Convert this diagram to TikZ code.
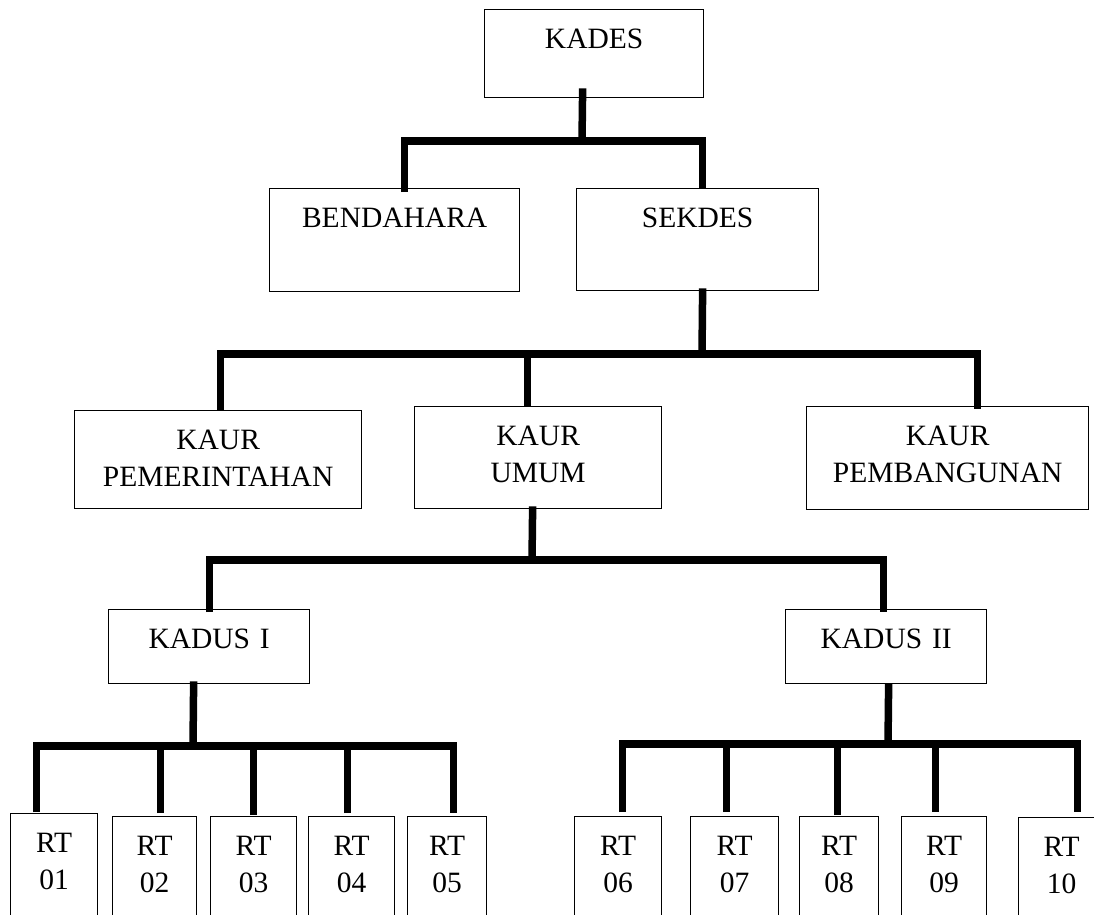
\documentclass[tikz,border=0pt]{standalone}
\usepackage{fontspec}
\setmainfont{Liberation Serif}
\tikzset{
  orgbox/.style={draw=black, line width=1.3pt, rectangle, anchor=north west,
    inner sep=0pt, align=center, text height=39pt,
    font=\fontsize{29.5pt}{37pt}\selectfont},
  conn/.style={draw=black, line width=7.5pt, line join=miter, line cap=butt},
}
\begin{document}
\begin{tikzpicture}[x=1pt,y=-1pt]
\useasboundingbox (0,0) rectangle (1094,914);
\clip (0,0) rectangle (1094,914);
% boxes
\node[orgbox, text width=219pt, text depth=49pt] (kades) at (484,9) {KADES};
\node[orgbox, text width=250pt, text depth=64pt] (bend) at (269,188) {BENDAHARA};
\node[orgbox, text width=242pt, text depth=63pt] (sek) at (576,188) {SEKDES};
\node[orgbox, text width=287pt, text depth=59pt] (kpem) at (74,410) {KAUR\\PEMERINTAHAN};
\node[orgbox, text width=247pt, text depth=63pt] (kumum) at (414,406) {KAUR\\UMUM};
\node[orgbox, text width=282pt, text depth=64pt] (kpemb) at (806,406) {KAUR\\PEMBANGUNAN};
\node[orgbox, text width=201pt, text depth=35pt] (kad1) at (108,609) {KADUS I};
\node[orgbox, text width=201pt, text depth=35pt] (kad2) at (785,609) {KADUS II};
\node[orgbox, text width=87pt, text depth=81pt] (rt01) at (10,813) {RT\\01};
\node[orgbox, text width=84pt, text depth=81pt] (rt02) at (112,816) {RT\\02};
\node[orgbox, text width=86pt, text depth=81pt] (rt03) at (210,816) {RT\\03};
\node[orgbox, text width=86pt, text depth=81pt] (rt04) at (308,816) {RT\\04};
\node[orgbox, text width=79pt, text depth=81pt] (rt05) at (407,816) {RT\\05};
\node[orgbox, text width=87pt, text depth=81pt] (rt06) at (574,816) {RT\\06};
\node[orgbox, text width=88pt, text depth=81pt] (rt07) at (690,816) {RT\\07};
\node[orgbox, text width=79pt, text depth=81pt] (rt08) at (799,816) {RT\\08};
\node[orgbox, text width=85pt, text depth=81pt] (rt09) at (901,816) {RT\\09};
\node[orgbox, text width=86pt, text depth=81pt] (rt10) at (1018,817) {RT\\10};
% junctions
\coordinate (b1) at (582,141);
\coordinate (b2) at (702,354);
\coordinate (b3) at (532,560);
\coordinate (b4) at (193,746);
\coordinate (b5) at (888,744);
% KADES level
\draw[conn] ([shift={(-11.5pt,10pt)}]kades.south) -- (b1);
\draw[conn] ([shift={(10pt,-4pt)}]bend.north) |- (b1) -| ([shift={(5pt,0pt)}]sek.north);
% SEKDES level
\draw[conn] ([shift={(5pt,3pt)}]sek.south) -- (b2);
\draw[conn] ([shift={(2.5pt,0pt)}]kpem.north) |- (b2) -| ([shift={(30pt,-3pt)}]kpemb.north);
\draw[conn] ([shift={(-10.5pt,0pt)}]kumum.north) |- (b2);
% KAUR UMUM level
\draw[conn] ([shift={(-5.5pt,3pt)}]kumum.south) -- (b3);
\draw[conn] ([shift={(0.5pt,-3pt)}]kad1.north) |- (b3) -| ([shift={(-2.5pt,-3pt)}]kad2.north);
% KADUS I level
\draw[conn] ([shift={(-15.5pt,3pt)}]kad1.south) -- (b4);
\draw[conn] ([shift={(-17.5pt,1pt)}]rt01.north) |- (b4) -| ([shift={(6.5pt,3pt)}]rt05.north);
\draw[conn] ([shift={(6pt,3pt)}]rt02.north) |- (b4);
\draw[conn] ([shift={(0pt,1pt)}]rt03.north) |- (b4);
\draw[conn] ([shift={(-4pt,3pt)}]rt04.north) |- (b4);
% KADUS II level
\draw[conn] ([shift={(2.5pt,1pt)}]kad2.south) -- (b5);
\draw[conn] ([shift={(4.5pt,4pt)}]rt06.north) |- (b5) -| ([shift={(16pt,5pt)}]rt10.north);
\draw[conn] ([shift={(-8pt,4pt)}]rt07.north) |- (b5);
\draw[conn] ([shift={(-1.5pt,1pt)}]rt08.north) |- (b5);
\draw[conn] ([shift={(-8.5pt,4pt)}]rt09.north) |- (b5);
\end{tikzpicture}
\end{document}
